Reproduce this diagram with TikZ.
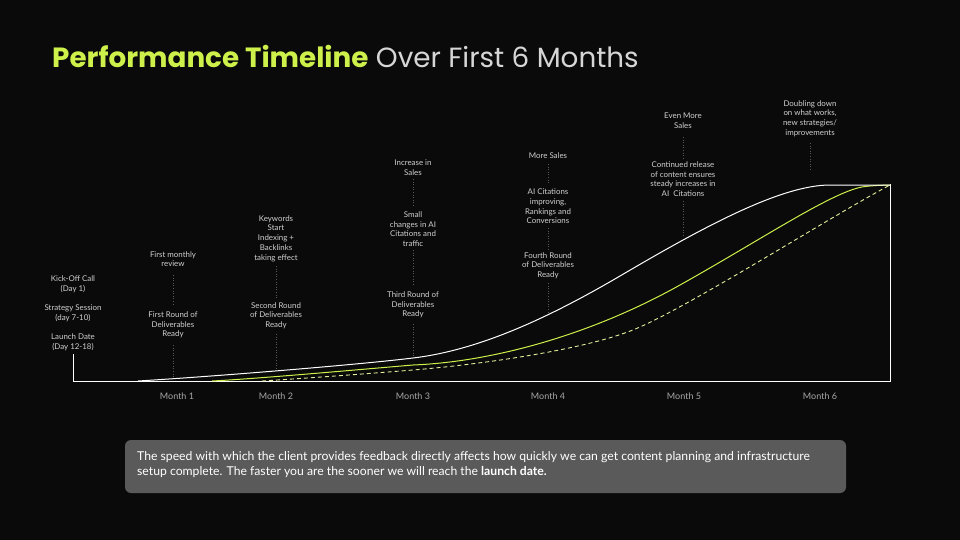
\documentclass[tikz,border=0pt]{standalone}
\usepackage{fontspec}
\setmainfont{Lato}
\newfontfamily\titlefont{Poppins}
\usetikzlibrary{calc}
\definecolor{bgc}{HTML}{0A0A0A}
\definecolor{lime}{HTML}{CDF04A}
\definecolor{limelight}{HTML}{E4EE9A}
\definecolor{ttlgrey}{HTML}{D6D6D6}
\definecolor{anno}{HTML}{D0D0D0}
\definecolor{monthc}{HTML}{A8A8A8}
\definecolor{dotc}{HTML}{5A5A5A}
\definecolor{boxc}{HTML}{5A5A5A}
\tikzset{
  annot/.style={text=anno, font=\fontsize{7.9}{9.7}\selectfont, align=center, inner sep=0pt},
  monthlbl/.style={text=monthc, font=\fontsize{9}{11}\selectfont, inner sep=0pt},
  dotline/.style={draw=dotc, line width=0.6pt, dash pattern=on 1pt off 1.6pt},
  axisline/.style={draw=white, line width=1pt},
}
\begin{document}
\begin{tikzpicture}[x=1pt,y=-1pt]
\fill[bgc] (0,0) rectangle (960,540);
\useasboundingbox (0,0) rectangle (960,540);

% title
\node[anchor=base west, inner sep=0pt, font=\titlefont\fontsize{27.8}{32}\selectfont] (title) at (52,68)
  {\textcolor{lime}{\bfseries Performance Timeline} \textcolor{ttlgrey}{Over First 6 Months}};

% axes
\coordinate (o) at (73,381);
\coordinate (ytop) at (73,354);
\coordinate (xend) at (890,381);
\coordinate (rtop) at (890,184);
\draw[axisline] (ytop) -- (o) -- (xend) -- (rtop);

% curves
\coordinate (ds) at (262,381);
\coordinate (d3) at (413,370);
\coordinate (dm) at (640,327);
\coordinate (gs) at (212,381);
\coordinate (g3) at (413,365);
\coordinate (gm) at (680,285);
\coordinate (gf) at (865,186.5);
\coordinate (ws) at (138,381);
\coordinate (w3) at (413,358);
\coordinate (wm) at (620,276);
\coordinate (wf) at (830,185);
\coordinate (endp) at (890,185);
\draw[limelight, line width=0.9pt, dash pattern=on 4pt off 3pt]
  (ds) .. controls (310,378) and (370,373.5) .. (d3)
       .. controls (480,364.5) and (590,349.5) .. (dm)
       .. controls (700,300) and (830,217) .. (endp);
\draw[lime, line width=1pt]
  (gs) .. controls (260,378.5) and (360,369.5) .. (g3)
       .. controls (490,362) and (589,336) .. (gm)
       .. controls (765,237.4) and (835,190) .. (gf)
       .. controls (875,185.5) .. (endp);
\draw[white, line width=1pt]
  (ws) .. controls (220,376) and (360,364.5) .. (w3)
       .. controls (480,350) and (550,317) .. (wm)
       .. controls (700,229) and (780,185) .. (wf) -- (endp);

% month labels
\node[monthlbl] (m1) at (177,396) {Month 1};
\node[monthlbl] (m2) at (276,396) {Month 2};
\node[monthlbl] (m3) at (413,396) {Month 3};
\node[monthlbl] (m4) at (548,396) {Month 4};
\node[monthlbl] (m5) at (684,396) {Month 5};
\node[monthlbl] (m6) at (820,396) {Month 6};

% left annotations
\node[annot] (k1) at (73,284) {Kick-Off Call\\(Day 1)};
\node[annot] (k2) at (73,313) {Strategy Session\\(day 7-10)};
\node[annot] (k3) at (73,342.5) {Launch Date\\(Day 12-18)};

% month 1
\node[annot] (a1) at (173,259) {First monthly\\review};
\node[annot] (b1) at (173,325) {First Round of\\Deliverables\\Ready};
\draw[dotline] (173,275) -- (173,305);
\draw[dotline] (173,345) -- (173,377);

% month 2
\node[annot] (a2) at (276,238.5) {Keywords\\Start\\Indexing +\\Backlinks\\taking effect};
\node[annot] (b2) at (276,315.5) {Second Round\\of Deliverables\\Ready};
\draw[dotline] (276,266) -- (276,298);
\draw[dotline] (276,334) -- (276,369);

% month 3
\node[annot] (a3) at (413,168) {Increase in\\Sales};
\node[annot] (b3) at (413,229) {Small\\changes in AI\\Citations and\\traffic};
\node[annot] (c3) at (413,305) {Third Round of\\Deliverables\\Ready};
\draw[dotline] (413,179) -- (413,206);
\draw[dotline] (413,250) -- (413,286);
\draw[dotline] (413,324) -- (413,356);

% month 4
\node[annot] (a4) at (548,156) {More Sales};
\node[annot] (b4) at (548,206.5) {AI Citations\\improving,\\Rankings and\\Conversions};
\node[annot] (c4) at (548,265.5) {Fourth Round\\of Deliverables\\Ready};
\draw[dotline] (548,164) -- (548,183);
\draw[dotline] (548,228) -- (548,249);
\draw[dotline] (548,283) -- (548,314);

% month 5
\node[annot] (a5) at (683,121) {Even More\\Sales};
\node[annot] (b5) at (683,179) {Continued release\\of content ensures\\steady increases in\\AI\ \ Citations};
\draw[dotline] (683,137) -- (683,158);
\draw[dotline] (683,201) -- (683,237);

% month 6
\node[annot] (a6) at (810,118.5) {Doubling down\\on what works,\\new strategies/\\improvements};
\draw[dotline] (810,143) -- (810,170);

% bottom box
\fill[boxc, rounded corners=6pt] (125,440) rectangle (846,493);
\node[anchor=north west, inner sep=0pt, align=left, text=white, font=\fontsize{12.2}{15}\selectfont] (note) at (137,451)
  {The speed with which the client provides feedback directly affects how quickly we can get content planning and infrastructure\\
   setup complete. The faster you are the sooner we will reach the \textbf{launch date.}};
\end{tikzpicture}
\end{document}
